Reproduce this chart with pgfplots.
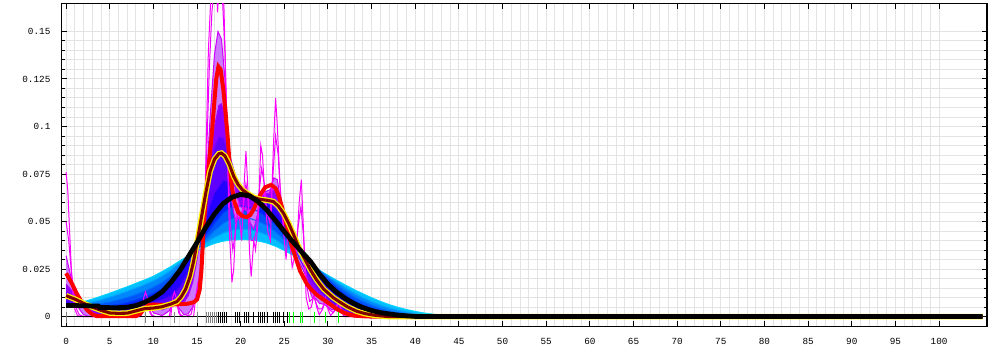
\documentclass[border=0pt]{standalone}
\usepackage{fontspec}
\setmonofont{Liberation Mono}
\usepackage{pgfplots}
\pgfplotsset{compat=1.18}
\usepackage{pgfplotstable}
\usepgfplotslibrary{fillbetween}

\definecolor{cA}{RGB}{0,210,255}
\definecolor{cB}{RGB}{0,160,255}
\definecolor{cC}{RGB}{0,110,250}
\definecolor{cD}{RGB}{0,60,250}
\definecolor{cE}{RGB}{0,10,255}
\definecolor{cF}{RGB}{70,0,255}
\definecolor{cG}{RGB}{120,0,255}
\definecolor{cH}{RGB}{165,0,255}
\definecolor{cI}{RGB}{205,0,255}
\definecolor{cJ}{RGB}{235,0,255}
\definecolor{cK}{RGB}{255,0,255}
\definecolor{fAB}{RGB}{0,190,255}
\definecolor{fBC}{RGB}{0,135,252}
\definecolor{fCD}{RGB}{0,85,250}
\definecolor{fDE}{RGB}{0,35,252}
\definecolor{fEF}{RGB}{35,0,255}
\definecolor{fFG}{RGB}{95,0,255}
\definecolor{fGH}{RGB}{145,0,255}
\definecolor{fHI}{RGB}{205,120,255}
\definecolor{brownk}{RGB}{128,0,0}
\definecolor{rugg}{RGB}{128,128,128}
\definecolor{rugn}{RGB}{0,255,0}

\pgfplotstableread{
x y
0 .0055
1 .0065
2 .0078
3 .0092
4 .0107
5 .0123
6 .014
7 .0157
8 .0175
9 .0193
10 .0212
11 .0237
12 .0263
13 .0292
14 .032
15 .0345
16 .0367
17 .0385
18 .0397
19 .0403
20 .0405
21 .0404
22 .0398
23 .0387
24 .037
25 .0348
26 .0323
27 .0297
28 .027
29 .0243
30 .0217
31 .0191
32 .0166
33 .0142
34 .012
35 .0099
36 .008
37 .0063
38 .0049
39 .0037
40 .0027
41 .0019
42 .0013
43 .0008
44 .0005
45 .0002
}\Fone

\pgfplotstableread{
x y
0 .0052
1 .0058
2 .0066
3 .0076
4 .0088
5 .0102
6 .0117
7 .0133
8 .015
9 .0168
10 .0188
11 .0212
12 .0243
13 .028
14 .0318
15 .0355
16 .0388
17 .0417
18 .044
19 .0455
20 .046
21 .0457
22 .0447
23 .043
24 .0405
25 .0375
26 .0343
27 .031
28 .0278
29 .0245
30 .0212
31 .018
32 .015
33 .0123
34 .0099
35 .0078
36 .006
37 .0045
38 .0033
39 .0023
40 .0015
41 .0009
42 .0005
43 .0002
44 0
45 0
}\Ftwo

\pgfplotstableread{
x y
0 .0052
1 .0055
2 .0058
3 .0063
4 .0069
5 .0077
6 .0088
7 .0101
8 .0116
9 .0134
10 .0155
11 .018
12 .0214
13 .026
14 .0305
15 .0355
16 .0405
17 .0452
18 .049
19 .0515
20 .0522
21 .0517
22 .0502
23 .0478
24 .0445
25 .0405
26 .0365
27 .0325
28 .0285
29 .0242
30 .0203
31 .0166
32 .0133
33 .0104
34 .008
35 .006
36 .0043
37 .003
38 .002
39 .0013
40 .0008
41 .0004
42 .0002
43 0
45 0
}\Fthree

\pgfplotstableread{
x y
0 .0055
1 .0056
2 .0055
3 .0054
4 .0055
5 .0058
6 .0064
7 .0074
8 .0087
9 .0103
10 .0123
11 .0148
12 .0182
13 .024
14 .0295
15 .0358
16 .0425
17 .049
18 .0545
19 .0575
20 .0583
21 .0574
22 .0553
23 .0522
24 .048
25 .043
26 .038
27 .033
28 .029
29 .0238
30 .0192
31 .015
32 .0114
33 .0085
34 .0061
35 .0043
36 .0029
37 .0019
38 .0012
39 .0007
40 .0003
41 .0001
42 0
45 0
}\Ffour

\pgfplotstableread{
x y
0 .0062
1 .006
2 .0055
3 .005
4 .0046
5 .0044
6 .0046
7 .0052
8 .0062
9 .0077
10 .0097
11 .0122
12 .0158
13 .0222
14 .0285
15 .0365
16 .0448
17 .0528
18 .0595
19 .0635
20 .065
21 .064
22 .061
23 .0565
24 .051
25 .045
26 .0393
27 .034
28 .0283
29 .0222
30 .0168
31 .0123
32 .0087
33 .0059
34 .0039
35 .0025
36 .0015
37 .0008
38 .0004
39 .0001
40 0
45 0
}\Ffive

\pgfplotstableread{
x y
0 .008
1 .007
2 .0058
3 .0045
4 .0035
5 .003
6 .003
7 .0036
8 .0047
9 .006
10 .0073
11 .0088
12 .011
13 .0152
14 .0235
15 .0365
16 .052
17 .065
18 .0715
19 .0705
20 .067
21 .0642
22 .0625
23 .0605
24 .0565
25 .0495
26 .0408
27 .0322
28 .0238
29 .0166
30 .0111
31 .0071
32 .0044
33 .0025
34 .0013
35 .0006
36 .0002
37 0
45 0
}\Fsix

\pgfplotstableread{
x y
0 .013
1 .0098
2 .0065
3 .0036
4 .0018
5 .0012
6 .0012
7 .0018
8 .003
9 .0044
10 .005
11 .0052
12 .0064
13 .0095
13.5 .0125
14 .0175
14.5 .026
15 .0375
15.5 .052
16 .066
16.5 .079
17 .089
17.5 .0945
18 .094
18.5 .0885
19 .0805
19.5 .073
20 .0675
20.5 .0635
21 .0615
21.5 .061
22 .0612
22.5 .0618
23 .062
23.5 .0612
24 .059
24.5 .0548
25 .0495
25.5 .0438
26 .038
26.5 .0328
27 .0282
27.5 .0238
28 .0198
29 .0135
30 .0088
31 .0056
32 .0032
33 .0016
34 .0007
35 .0002
36 0
45 0
}\Fseven

\pgfplotstableread{
x y
0 .017
0.5 .0145
1 .0115
1.5 .0085
2 .0055
2.5 .0032
3 .0016
4 .0004
5 .0001
7 .0002
8 .0015
8.5 .0035
9 .0055
9.5 .0065
10 .0055
11 .0035
11.5 .0045
12 .006
12.5 .007
13 .0065
13.5 .0075
14 .011
14.5 .018
15 .03
15.5 .046
16 .064
16.5 .083
17 .1
17.5 .111
17.8 .112
18.2 .105
18.6 .092
19 .077
19.5 .064
20 .058
20.5 .056
21 .056
21.5 .058
22 .062
22.5 .065
23 .066
23.5 .067
24 .066
24.5 .061
25 .053
25.5 .044
26 .036
26.5 .03
27 .026
27.5 .021
28 .016
28.5 .013
29 .011
29.5 .009
30 .007
31 .0045
32 .002
33 .0006
34 0
45 0
}\Feight

\pgfplotstableread{
x y
0 .032
0.5 .022
1 .011
1.5 .004
2 .001
2.5 .0002
3 0
8 0
8.5 .003
9 .0075
9.5 .006
10 .002
11 .0005
11.8 .003
12.4 .0075
13 .004
13.5 .001
14 .0015
14.5 .005
15 .013
15.5 .03
16 .065
16.5 .105
17 .138
17.4 .15
17.8 .146
18.2 .125
18.6 .09
19 .06
19.4 .05
19.8 .052
20.2 .055
20.6 .058
21 .05
21.5 .046
22 .055
22.4 .063
22.8 .065
23.3 .065
23.8 .073
24.2 .072
24.6 .06
25 .05
25.4 .045
25.8 .04
26.2 .035
26.6 .036
27 .034
27.4 .025
27.8 .015
28.2 .01
28.6 .0095
29 .007
29.5 .0065
30 .005
30.5 .0035
31 .004
31.5 .003
32 .001
33 0
45 0
}\Fnine

\pgfplotstableread{
x y
0 .0058
1 .0058
2 .0057
3 .0056
3.7 .0055
3.8 .0048
5 .0047
6 .0047
7 .0049
8 .0058
9 .0075
10 .0098
11 .013
12 .018
13 .024
14 .0315
15 .039
16 .047
17 .054
18 .0595
19 .0628
20 .0643
21 .0635
22 .0605
23 .056
24 .0505
25 .0447
26 .0392
27 .034
28 .029
29 .0225
30 .017
31 .0128
32 .0095
33 .0068
34 .0047
35 .0032
36 .0021
37 .0014
38 .0008
39 .0004
40 .0001
41 0
105 0
}\Black

\pgfplotstableread{
x y
0 .011
1 .0092
2 .007
3 .005
4 .0033
5 .0019
6 .0017
7 .0018
8 .003
9 .0042
10 .0045
11 .0052
12 .0066
12.7 .0079
13.2 .0105
13.7 .0145
14.2 .021
14.6 .029
15 .039
15.5 .052
16 .065
16.5 .0765
17 .0828
17.5 .0857
17.8 .086
18.2 .0845
18.7 .08
19.2 .0738
19.7 .0695
20.2 .0667
20.7 .065
21.5 .0627
22.2 .0617
23 .0612
23.75 .0605
24.3 .0582
24.9 .0544
25.5 .049
26 .0438
26.6 .037
27.2 .0315
28 .0245
28.7 .0193
29.5 .0145
30.6 .01
31.4 .0075
32.2 .0052
33.3 .0028
34.2 .0016
35.2 .0008
36.2 .0003
37 0
105 0
}\Brown

\begin{document}
\begin{tikzpicture}
\begin{axis}[
  scale only axis,
  width=694pt, height=242.5pt,
  xmin=-0.5, xmax=105.5, ymin=-0.0053, ymax=0.1648,
  xtick={0,5,...,100},
  ytick={0,0.025,0.05,0.075,0.1,0.125,0.15},
  yticklabels={0,0.025,0.05,0.075,0.1,0.125,0.15},
  minor x tick num=4, minor y tick num=4,
  grid=both,
  major grid style={color=black!11, line width=0.75pt},
  minor grid style={color=black!11, line width=0.75pt},
  minor x tick style={draw=none},
  tick align=inside, xtick pos=both, ytick pos=both,
  major tick length=4pt, minor tick length=2.2pt,
  tick style={black, line width=0.75pt},
  axis line style={line width=1.1pt},
  /pgf/number format/assume math mode=true,
  tick label style={font=\fontsize{7}{8}\selectfont\ttfamily},
  yticklabel style={xshift=-5pt},
  xticklabel style={yshift=-5pt},
  scaled y ticks=false,
]
% bandwidth family
\addplot[name path=F1, cA, line width=0.75pt] table {\Fone};
\addplot[name path=F2, cB, line width=0.75pt] table {\Ftwo};
\addplot[name path=F3, cC, line width=0.75pt] table {\Fthree};
\addplot[name path=F4, cD, line width=0.75pt] table {\Ffour};
\addplot[name path=F5, cE, line width=0.75pt] table {\Ffive};
\addplot[name path=F6, cF, line width=0.75pt] table {\Fsix};
\addplot[name path=F7, cG, line width=0.75pt] table {\Fseven};
\addplot[name path=F8, cH, line width=0.75pt] table {\Feight};
\addplot[name path=F9, cI, line width=0.75pt] table {\Fnine};
\addplot[fAB, draw=none] fill between[of=F1 and F2];
\addplot[fBC, draw=none] fill between[of=F2 and F3];
\addplot[fCD, draw=none] fill between[of=F3 and F4];
\addplot[fDE, draw=none] fill between[of=F4 and F5];
\addplot[fEF, draw=none] fill between[of=F5 and F6];
\addplot[fFG, draw=none] fill between[of=F6 and F7];
\addplot[fGH, draw=none] fill between[of=F7 and F8];
\addplot[fHI, draw=none] fill between[of=F8 and F9];
% narrowest bandwidths
\addplot[cJ, line width=0.75pt] coordinates {
(0,.05) (0.3,.04) (0.6,.024) (0.9,.011) (1.2,.004) (1.5,.001) (2,0) (8.4,0) (8.8,.006) (9.1,.009) (9.4,.006) (9.8,.001) (10.2,0) (11.8,0) (12.1,.006) (12.4,.009) (12.7,.006) (13.1,.001) (13.5,0) (14.3,.001) (14.7,.008) (15.1,.013) (15.5,.018) (15.8,.04) (16.1,.085) (16.4,.13) (16.7,.16) (17,.175) (17.3,.17) (17.6,.172) (17.9,.168) (18.2,.14) (18.5,.09) (18.8,.05) (19.1,.035) (19.4,.045) (19.7,.055) (20,.052) (20.3,.058) (20.6,.07) (20.9,.06) (21.2,.04) (21.5,.04) (21.8,.045) (22.1,.065) (22.4,.078) (22.7,.07) (23,.055) (23.3,.05) (23.7,.075) (24,.095) (24.3,.085) (24.6,.06) (25,.045) (25.4,.045) (25.8,.035) (26.2,.033) (26.6,.048) (26.9,.058) (27.2,.042) (27.5,.018) (27.9,.008) (28.4,.01) (28.9,.004) (29.3,.004) (29.7,.008) (30.1,.004) (30.6,.002) (31.2,.007) (31.6,.003) (32,0) (35,0)};
\addplot[cK, line width=0.75pt] coordinates {
(0,.076) (0.2,.066) (0.4,.045) (0.6,.025) (0.8,.011) (1,.004) (1.3,.0005) (1.6,0) (8.6,0) (8.9,.01) (9.1,.013) (9.3,.01) (9.6,.002) (9.9,0) (12,0) (12.2,.01) (12.4,.013) (12.6,.01) (12.9,.002) (13.2,0) (14.6,0) (14.9,.012) (15.1,.018) (15.4,.016) (15.7,.03) (16,.08) (16.3,.14) (16.6,.17) (16.9,.19) (17.1,.19) (17.35,.16) (17.6,.18) (17.85,.2) (18.1,.16) (18.4,.1) (18.7,.045) (19,.018) (19.2,.025) (19.5,.055) (19.7,.06) (19.9,.05) (20.1,.04) (20.4,.07) (20.6,.087) (20.8,.07) (21,.035) (21.2,.021) (21.5,.04) (21.7,.035) (22,.05) (22.3,.09) (22.5,.085) (22.8,.06) (23.1,.045) (23.4,.04) (23.75,.09) (24,.115) (24.2,.1) (24.5,.07) (24.9,.045) (25.2,.03) (25.4,.045) (25.6,.04) (25.9,.026) (26.1,.03) (26.4,.035) (26.7,.06) (26.95,.072) (27.2,.045) (27.5,.01) (27.8,.004) (28.1,.005) (28.4,.012) (28.7,.005) (29,.001) (29.4,.004) (29.7,.01) (30,.004) (30.3,.0005) (30.9,.004) (31.2,.009) (31.5,.004) (31.8,0) (35,0)};
% baseline
\addplot[black, line width=1.2pt] coordinates {(-0.3,0) (105,0)};
% red
\addplot[red, line width=3pt] coordinates {
(0,.0228) (0.6,.018) (1.2,.0123) (1.8,.0075) (2.4,.0035) (3,.0012) (3.5,.0003) (4,.0002) (8,.0002) (8.5,.0015) (9,.0045) (9.4,.006) (10,.0064) (11,.0061) (12,.0063) (13,.0065) (14,.0068) (14.6,.0075) (15,.009) (15.3,.014) (15.5,.024) (15.7,.042) (15.9,.056) (16.2,.073) (16.7,.0965) (17,.114) (17.2,.125) (17.45,.1315) (17.7,.13) (18,.12) (18.25,.108) (18.5,.095) (18.75,.079) (19,.068) (19.3,.06) (19.7,.055) (20.2,.0528) (20.7,.0523) (21.1,.0535) (21.5,.0565) (21.9,.061) (22.3,.0645) (22.8,.068) (23.5,.0693) (24,.0675) (24.4,.063) (24.8,.0565) (25.3,.0475) (25.8,.038) (26.4,.0295) (26.8,.024) (27.2,.0205) (27.6,.017) (28.1,.0142) (28.7,.0115) (29.3,.0095) (29.8,.008) (30.4,.006) (31,.004) (31.6,.0025) (32.2,.0014) (33,.0005) (34,.0002) (35,0) (105,0)};
% brown with yellow outline
\addplot[yellow, line width=4.2pt] table {\Brown};
\addplot[brownk, line width=2.3pt] table {\Brown};
% black
\addplot[black, line width=3.6pt] table {\Black};
% rug
\addplot[only marks, mark=|, mark size=4.2pt, rugg, mark options={line width=0.75pt}] coordinates {
(0,-0.0003) (9.1,-0.0003) (12.4,-0.0003) (15.05,-0.0003) (16.11,-0.0003) (16.34,-0.0003) (16.57,-0.0003) (16.8,-0.0003) (17.03,-0.0003) (17.26,-0.0003)};
\addplot[only marks, mark=|, mark size=4.2pt, black, mark options={line width=0.75pt}] coordinates {
(17.49,-0.0003) (17.72,-0.0003) (17.95,-0.0003) (18.18,-0.0003) (18.41,-0.0003) (19.4,-0.0003) (19.63,-0.0003) (19.86,-0.0003) (20.4,-0.0003) (20.63,-0.0003) (20.86,-0.0003) (21.5,-0.0003) (22.07,-0.0003) (22.3,-0.0003) (22.53,-0.0003) (22.76,-0.0003) (23.1,-0.0003) (23.75,-0.0003) (23.98,-0.0003) (24.21,-0.0003) (24.44,-0.0003) (24.9,-0.0003) (25.35,-0.0003)};
\addplot[only marks, mark=|, mark size=4.2pt, rugn, mark options={line width=0.75pt}] coordinates {
(25.6,-0.0003) (26.05,-0.0003) (26.8,-0.0003) (27.03,-0.0003) (28.4,-0.0003) (29.7,-0.0003) (31.16,-0.0003)};
\end{axis}
\pgfresetboundingbox
\path[use as bounding box] (-46.3pt,-17.5pt) rectangle (703.7pt,245pt);
\end{tikzpicture}
\end{document}
